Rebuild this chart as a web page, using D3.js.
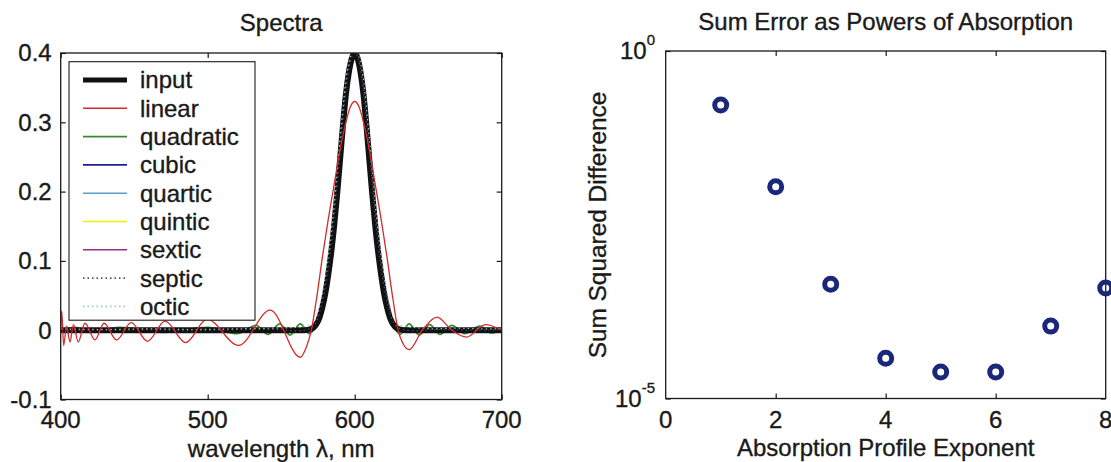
<!DOCTYPE html>
<html><head><meta charset="utf-8">
<script src="https://cdn.jsdelivr.net/npm/d3@7/dist/d3.min.js"></script>
<style>html,body{margin:0;padding:0;background:#fff;overflow:hidden}</style>
</head><body><svg id="c" width="1111" height="462"></svg>
<script>
// ---------- data ----------
const inputWl  = [400,450,500,550,566,568,570,572,574,576,578,580,582,584,586,588,590,592,594,596,598,600,602,604,606,608,610,612,614,616,618,620,622,624,626,628,630,632,634,650,700];
const inputVal = [0,0,0,0,0,0.0005,0.0015,0.004,0.009,0.018,0.033,0.053,0.080,0.112,0.150,0.195,0.245,0.295,0.340,0.372,0.392,0.400,0.392,0.372,0.340,0.295,0.245,0.195,0.150,0.112,0.080,0.053,0.033,0.018,0.009,0.004,0.0015,0.0005,0,0,0];

const linearWl  = [400,400.7,402,404,406.3,408.7,411.9,416.5,423.3,429.5,438,448,459,471,485,499.5,521,542.5,563,567,570.5,574,578,582,586,590,594,597,600,603,606,610,614,618,622,626,629.5,633,637,646,656,666,676,689,700];
const linearVal = [0,0.028,-0.022,0.006,-0.017,0.008,-0.017,0.010,-0.014,0.010,-0.014,0.011,-0.016,0.013,-0.018,0.016,-0.022,0.029,-0.039,-0.025,0,0.045,0.105,0.160,0.210,0.260,0.300,0.322,0.330,0.322,0.300,0.260,0.210,0.160,0.105,0.045,0,-0.020,-0.028,0,0.019,0,-0.010,0.008,0];

const quadraticWl  = [400,410,420,440,470,500,520,533,541,549,556,563,569,574,578,582,586,590,594,597,600,603,606,610,614,618,622,626,631,637,644,651,658,666,675,685,693,700];
const quadraticVal = [0,0.004,-0.003,0.004,-0.003,0.004,-0.005,0.007,-0.006,0.009,-0.007,0.009,-0.005,0.008,0.030,0.075,0.140,0.235,0.330,0.375,0.393,0.375,0.330,0.235,0.140,0.075,0.030,0.008,-0.006,0.009,-0.007,0.008,-0.006,0.007,-0.005,0.006,-0.004,0];

const smoothWl   = [400,430,460,490,520,545,560,570,575,580,585,590,595,600,605,610,615,620,625,630,640,655,670,685,700];
const cubicVal   = [0.001,-0.001,0.001,-0.001,0.001,-0.001,0.002,0.002,0.013,0.054,0.131,0.246,0.356,0.398,0.356,0.246,0.131,0.054,0.013,0.002,0.002,-0.001,0.001,-0.001,0];
const quarticVal = [0.002,-0.001,0.002,-0.002,0.002,-0.002,0.003,0.003,0.015,0.057,0.134,0.249,0.359,0.397,0.359,0.249,0.134,0.057,0.015,0.003,0.003,-0.002,0.002,-0.001,0.001];
const quinticVal = [0.001,0.001,-0.001,0.001,-0.001,0.002,-0.002,0.003,0.016,0.060,0.137,0.251,0.357,0.396,0.357,0.251,0.137,0.060,0.016,0.003,-0.002,0.002,-0.001,0.001,0];
const sexticVal  = [0,0.001,-0.001,0.001,0.001,-0.001,0.001,0.002,0.014,0.056,0.133,0.248,0.357,0.397,0.357,0.248,0.133,0.056,0.014,0.002,0.001,-0.001,0.001,0,0];
const septicVal  = [0.001,0,0.001,-0.001,0.001,0.001,-0.001,0.003,0.018,0.064,0.143,0.258,0.364,0.401,0.364,0.258,0.143,0.064,0.018,0.003,-0.001,0.001,0.001,0,0.001];
const octicVal   = [0.002,0.001,0.002,0.001,0.002,0.003,0.004,0.008,0.026,0.078,0.160,0.275,0.375,0.405,0.375,0.275,0.160,0.078,0.026,0.008,0.004,0.002,0.003,0.002,0.002];

const legendNames = ["input","linear","quadratic","cubic","quartic","quintic","sextic","septic","octic"];
const xTicksL = [400,500,600,700];
const yTicksL = [-0.1,0,0.1,0.2,0.3,0.4];
const yTickLabelsL = ["-0.1","0","0.1","0.2","0.3","0.4"];

const exponents  = [1,2,3,4,5,6,7,8];
const sumSqDiff  = [0.167,0.0111,4.4e-4,3.8e-5,2.4e-5,2.4e-5,1.1e-4,3.9e-4];
const xTicksR = [0,2,4,6,8];
const yTicksR = [1e-5,1];

// ---------- drawing ----------
const FONT = "'Liberation Sans', Arial, Helvetica, sans-serif";
const FS = 24;
const INK = "#1a1a1a";
const svg = d3.select("#c").attr("font-family", FONT);

function hText(x, y, str, anchor, size) {
  return svg.append("text")
    .attr("x", x).attr("y", y)
    .attr("text-anchor", anchor).attr("font-size", size || FS)
    .attr("fill", INK).attr("stroke", INK).attr("stroke-width", 0.35)
    .text(str);
}

// ===== Left panel =====
const L = {x0:60.7, x1:501.7, y0:53, y1:399.5};
const xL = d3.scaleLinear().domain([400,700]).range([L.x0, L.x1]);
const yL = d3.scaleLinear().domain([-0.1,0.4]).range([L.y1, L.y0]);

svg.append("clipPath").attr("id","clipL").append("rect")
  .attr("x",L.x0).attr("y",L.y0).attr("width",L.x1-L.x0).attr("height",L.y1-L.y0);

const series = [
  {name:"input",     wl:inputWl,     v:inputVal,     color:"#111111", w:6,   dash:null},
  {name:"linear",    wl:linearWl,    v:linearVal,    color:"#d42a2a", w:1.3, dash:null},
  {name:"quadratic", wl:quadraticWl, v:quadraticVal, color:"#3a8a32", w:1.8, dash:null},
  {name:"cubic",     wl:smoothWl,    v:cubicVal,     color:"#1f1f8f", w:1.3, dash:null},
  {name:"quartic",   wl:smoothWl,    v:quarticVal,   color:"#5aa0c8", w:1.3, dash:null},
  {name:"quintic",   wl:smoothWl,    v:quinticVal,   color:"#f0f000", w:1.3, dash:null},
  {name:"sextic",    wl:smoothWl,    v:sexticVal,    color:"#9a2e80", w:1.3, dash:null},
  {name:"septic",    wl:smoothWl,    v:septicVal,    color:"#4b4b7d", w:1.2, dash:"1.5,3"},
  {name:"octic",     wl:smoothWl,    v:octicVal,     color:"#9fc7c0", w:1.2, dash:"1.5,3"}
];
const line = d3.line().x(d=>xL(d[0])).y(d=>yL(d[1])).curve(d3.curveMonotoneX);
const gLines = svg.append("g").attr("clip-path","url(#clipL)");
const drawOrder = ["cubic","quartic","quintic","sextic","quadratic","input","septic","octic","linear"];
drawOrder.forEach(n => {
  const s = series.find(q=>q.name===n);
  gLines.append("path").datum(s.wl.map((w,i)=>[w,s.v[i]]))
    .attr("d", line).attr("fill","none").attr("stroke", s.color)
    .attr("stroke-width", s.w).attr("stroke-dasharray", s.dash)
    .attr("stroke-linejoin","round");
});

function frameAxes(xs, ys, box, xt, yt) {
  const rm = g => g.select(".domain").remove();
  const st = g => g.selectAll("line").attr("stroke", INK).attr("stroke-width",1.2);
  svg.append("g").attr("transform",`translate(0,${box.y1})`)
    .call(d3.axisBottom(xs).tickValues(xt).tickSize(-5).tickFormat("")).call(rm).call(st);
  svg.append("g").attr("transform",`translate(0,${box.y0})`)
    .call(d3.axisTop(xs).tickValues(xt).tickSize(-5).tickFormat("")).call(rm).call(st);
  svg.append("g").attr("transform",`translate(${box.x0},0)`)
    .call(d3.axisLeft(ys).tickValues(yt).tickSize(-5).tickFormat("")).call(rm).call(st);
  svg.append("g").attr("transform",`translate(${box.x1},0)`)
    .call(d3.axisRight(ys).tickValues(yt).tickSize(-5).tickFormat("")).call(rm).call(st);
  svg.append("rect").attr("x",box.x0).attr("y",box.y0)
    .attr("width",box.x1-box.x0).attr("height",box.y1-box.y0)
    .attr("fill","none").attr("stroke",INK).attr("stroke-width",1.3);
}
frameAxes(xL, yL, L, xTicksL, yTicksL);

xTicksL.forEach(v => hText(xL(v), 428, String(v), "middle"));
yTicksL.forEach((v,i) => hText(51.7, yL(v)+8.4, yTickLabelsL[i], "end"));
hText((L.x0+L.x1)/2, 31, "Spectra", "middle");
hText((L.x0+L.x1)/2, 457, "wavelength \u03BB, nm", "middle");

// legend
const lg = svg.append("g");
lg.append("rect").attr("x",69).attr("y",61.7).attr("width",186).attr("height",258.5)
  .attr("fill","#fff").attr("stroke",INK).attr("stroke-width",1.1);
legendNames.forEach((n,i) => {
  const s = series.find(q=>q.name===n);
  const yy = 80 + i*28.3;
  lg.append("line").attr("x1",83).attr("x2",127).attr("y1",yy).attr("y2",yy)
    .attr("stroke",s.color).attr("stroke-width", n==="input"?5:1.6)
    .attr("stroke-dasharray", s.dash);
  hText(140, yy+8.4, n, "start");
});

// ===== Right panel =====
const R = {x0:665.7, x1:1105.7, y0:51, y1:398.5};
const xR = d3.scaleLinear().domain([0,8]).range([R.x0, R.x1]);
const yR = d3.scaleLog().domain([1e-5,1]).range([R.y1, R.y0]);
frameAxes(xR, yR, R, [2,4,6], yTicksR);

svg.append("g").selectAll("circle").data(exponents.map((e,i)=>[e,sumSqDiff[i]]))
  .join("circle").attr("cx",d=>xR(d[0])).attr("cy",d=>yR(d[1])).attr("r",6)
  .attr("fill","none").attr("stroke","#1b2779").attr("stroke-width",5);

xTicksR.forEach(v => hText(xR(v), 428, String(v), "middle"));
yTicksR.forEach(v => {
  const t = svg.append("text")
    .attr("x", 655).attr("y", yR(v)+8.4)
    .attr("text-anchor","end").attr("font-size",FS).attr("fill",INK)
    .attr("stroke",INK).attr("stroke-width",0.35);
  t.append("tspan").text("10");
  t.append("tspan").attr("font-size",15).attr("dy",-14).text(String(Math.round(Math.log10(v))));
});
hText((R.x0+R.x1)/2, 30, "Sum Error as Powers of Absorption", "middle");
hText((R.x0+R.x1)/2, 456, "Absorption Profile Exponent", "middle");
svg.append("text").attr("transform","translate(606,225) rotate(-90)")
  .attr("text-anchor","middle").attr("font-size",24.4).attr("fill",INK)
  .attr("stroke",INK).attr("stroke-width",0.35)
  .text("Sum Squared Difference");
</script></body></html>
